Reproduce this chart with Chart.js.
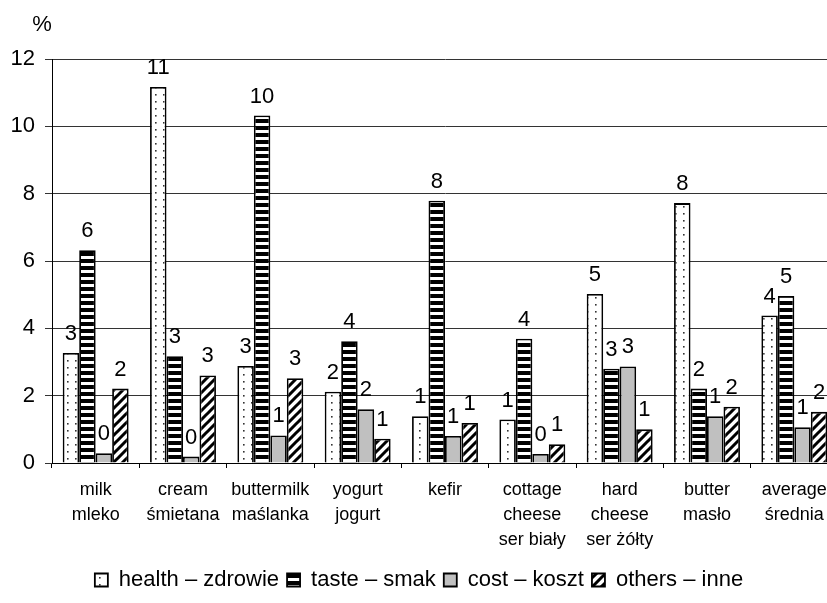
<!DOCTYPE html>
<html>
<head>
<meta charset="utf-8">
<script src="https://cdn.jsdelivr.net/npm/chart.js@4.4.1/dist/chart.umd.min.js"></script>
<style>
  html, body { margin: 0; padding: 0; background: #fff; overflow: hidden; }
  #wrap { position: relative; width: 845px; height: 603px; }
</style>
</head>
<body>
<div id="wrap"><canvas id="chart"></canvas></div>
<script>
// Product categories (English / Polish)
const categories = [
  ['milk', 'mleko'],
  ['cream', 'śmietana'],
  ['buttermilk', 'maślanka'],
  ['yogurt', 'jogurt'],
  ['kefir'],
  ['cottage', 'cheese', 'ser biały'],
  ['hard', 'cheese', 'ser żółty'],
  ['butter', 'masło'],
  ['average', 'średnia']
];

const seriesNames = ['health – zdrowie', 'taste – smak', 'cost – koszt', 'others – inne'];

// Share of answers per reason, %
const health = [3.27, 11.17, 2.88, 2.12, 1.39, 1.29, 5.02, 7.72, 4.38];
const taste  = [6.32, 3.17, 10.32, 3.62, 7.79, 3.69, 2.80, 2.21, 4.96];
const cost   = [0.29, 0.19, 0.82, 1.60, 0.80, 0.27, 2.87, 1.39, 1.06];
const others = [2.21, 2.60, 2.52, 0.72, 1.19, 0.56, 1.00, 1.67, 1.52];

const yTicks = [0, 2, 4, 6, 8, 10, 12];

function makePattern(w, h, paint) {
  const c = document.createElement('canvas');
  c.width = w; c.height = h;
  const g = c.getContext('2d');
  paint(g, w, h);
  return g.createPattern(c, 'repeat');
}

const ctx = document.getElementById('chart').getContext('2d');

// dotted fill
const dotFill = makePattern(8, 7, (g, w, h) => {
  g.fillStyle = '#fff'; g.fillRect(0, 0, w, h);
  g.fillStyle = '#333';
  g.fillRect(3, 3, 1.6, 1.6);
});
// horizontal stripes
const stripeFill = makePattern(8, 7, (g, w, h) => {
  g.fillStyle = '#fff'; g.fillRect(0, 0, w, h);
  g.fillStyle = '#000'; g.fillRect(0, 0, w, 4);
});
// diagonal hatching
const hatchFill = makePattern(9, 9, (g, w, h) => {
  g.fillStyle = '#fff'; g.fillRect(0, 0, w, h);
  g.strokeStyle = '#000'; g.lineWidth = 3;
  g.beginPath();
  g.moveTo(-2, h + 2); g.lineTo(w + 2, -2);
  g.moveTo(-2, 2); g.lineTo(2, -2);
  g.moveTo(w - 2, h + 2); g.lineTo(w + 2, h - 2);
  g.stroke();
});

const fills = [dotFill, stripeFill, '#c0c0c0', hatchFill];
const values = [health, taste, cost, others];

const FONT = '"Liberation Sans", Arial, sans-serif';

const valueLabels = {
  id: 'valueLabels',
  afterDatasetsDraw(chart) {
    const c = chart.ctx;
    c.save();
    c.font = '22px ' + FONT;
    c.fillStyle = '#000';
    c.textAlign = 'center';
    c.textBaseline = 'alphabetic';
    chart.data.datasets.forEach((ds, i) => {
      chart.getDatasetMeta(i).data.forEach((bar, j) => {
        c.fillText(String(Math.round(ds.data[j])), bar.x, bar.y - 13);
      });
    });
    c.restore();
  }
};

const unitLabel = {
  id: 'unitLabel',
  afterDraw(chart) {
    const c = chart.ctx;
    c.save();
    c.font = '22px ' + FONT;
    c.fillStyle = '#000';
    c.textAlign = 'center';
    c.textBaseline = 'middle';
    c.fillText('%', chart.chartArea.left - 10, chart.chartArea.top - 34);
    c.restore();
  }
};

new Chart(ctx, {
  type: 'bar',
  data: {
    labels: categories,
    datasets: values.map((v, i) => ({
      label: seriesNames[i],
      data: v,
      backgroundColor: fills[i],
      borderColor: '#000',
      borderWidth: 1.8,
      categoryPercentage: 0.755,
      barPercentage: 1.0
    }))
  },
  options: {
    responsive: true,
    maintainAspectRatio: false,
    animation: false,
    devicePixelRatio: 1,
    layout: { padding: { top: 59, right: 7, bottom: 2, left: 0 } },
    plugins: {
      tooltip: { enabled: false },
      legend: {
        position: 'bottom',
        labels: {
          boxWidth: 13,
          boxHeight: 13,
          padding: 8,
          color: '#000',
          font: { family: FONT, size: 22 }
        }
      }
    },
    scales: {
      x: {
        offset: true,
        grid: { display: true, drawOnChartArea: false, drawTicks: true, tickLength: 5, color: '#000', offset: true },
        border: { display: true, color: '#000', width: 1 },
        ticks: { color: '#000', padding: 10, maxRotation: 0, autoSkip: false, font: { family: FONT, size: 18, lineHeight: 1.38 } },
        afterFit(s) { s.height = 98; }
      },
      y: {
        min: 0,
        max: 12,
        afterBuildTicks(s) { s.ticks = yTicks.map(v => ({ value: v })); },
        grid: { color: '#333', lineWidth: 1, tickLength: 7, drawTicks: true },
        border: { display: true, color: '#000', width: 1 },
        ticks: { color: '#000', padding: 10, font: { family: FONT, size: 22 } },
        afterFit(s) { s.width = 52; }
      }
    }
  },
  plugins: [valueLabels, unitLabel]
});
</script>
</body>
</html>
